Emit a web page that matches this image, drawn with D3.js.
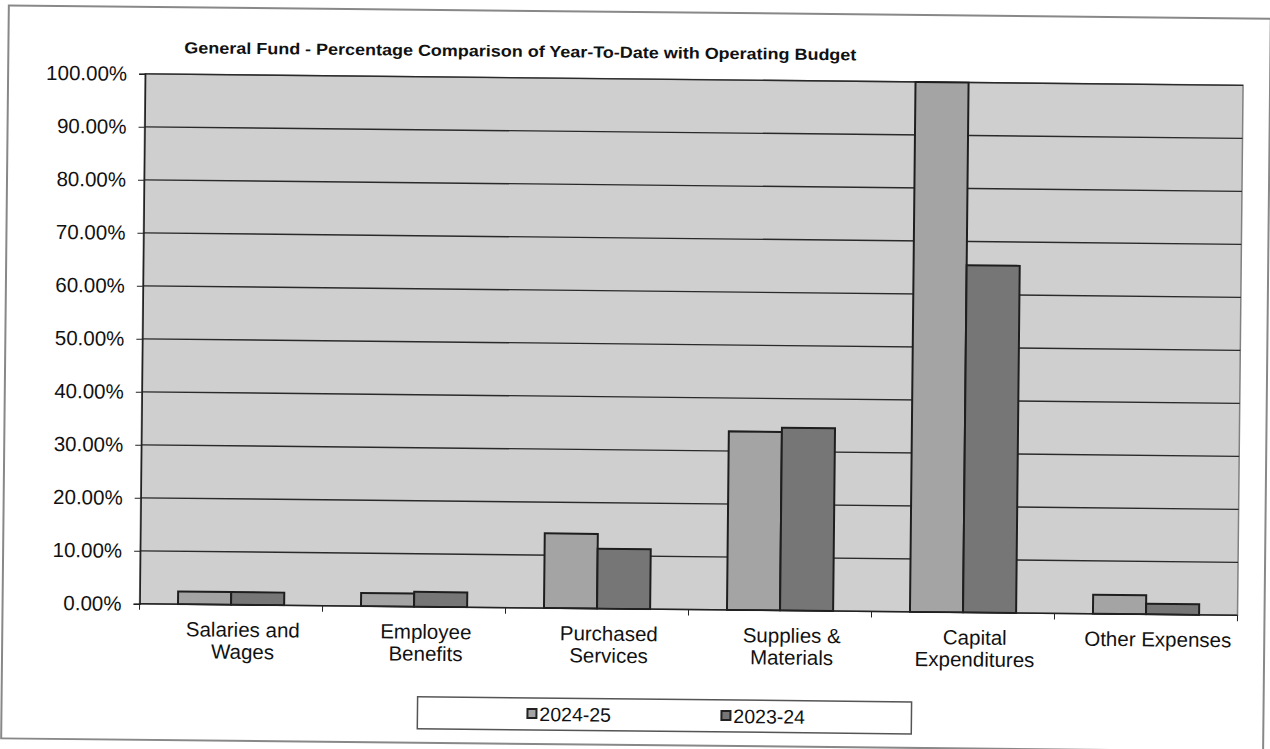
<!DOCTYPE html>
<html>
<head>
<meta charset="utf-8">
<script src="https://cdn.jsdelivr.net/npm/d3@7"></script>
<style>
  body { margin: 0; background: #fff; }
  text { font-family: 'Liberation Sans', Arial, sans-serif; fill: #111; }
</style>
</head>
<body>
<div id="chart"></div>
<script>
const categories = [
  ['Salaries and', 'Wages'],
  ['Employee', 'Benefits'],
  ['Purchased', 'Services'],
  ['Supplies &', 'Materials'],
  ['Capital', 'Expenditures'],
  ['Other Expenses']
];
const seriesNames = ['2024-25', '2023-24'];
const values2425 = [0.024, 0.025, 0.141, 0.337, 1.0, 0.036];
const values2324 = [0.024, 0.028, 0.113, 0.345, 0.655, 0.020];
const yTicks = [0, 0.1, 0.2, 0.3, 0.4, 0.5, 0.6, 0.7, 0.8, 0.9, 1.0];
const title = 'General Fund - Percentage Comparison of Year-To-Date with Operating Budget';

const W = 1270, H = 749;
const PLOT = { left: 142, right: 1240, top: 79, bottom: 609 };
const COLORS = ['#a4a4a4', '#767676'];

const svg = d3.select('#chart').append('svg')
  .attr('width', W).attr('height', H);

// the scanned page is slightly tilted
const root = svg.append('g').attr('transform', 'rotate(0.6, 635, 375)');

// outer chart frame
root.append('rect')
  .attr('x', 5).attr('y', 12).attr('width', 1262).attr('height', 733)
  .attr('fill', '#fff').attr('stroke', '#888').attr('stroke-width', 2);

root.append('text')
  .attr('x', 517).attr('y', 58)
  .attr('text-anchor', 'middle')
  .attr('font-size', 16).attr('font-weight', 'bold')
  .attr('textLength', 672).attr('lengthAdjust', 'spacingAndGlyphs')
  .text(title);

const x = d3.scaleBand()
  .domain(d3.range(categories.length))
  .range([PLOT.left, PLOT.right])
  .paddingInner(0.42).paddingOuter(0.21);
const xs = d3.scaleBand().domain(seriesNames).range([0, x.bandwidth()]);
const y = d3.scaleLinear().domain([0, 1]).range([PLOT.bottom, PLOT.top]);

// plot area
root.append('rect')
  .attr('x', PLOT.left).attr('y', PLOT.top)
  .attr('width', PLOT.right - PLOT.left).attr('height', PLOT.bottom - PLOT.top)
  .attr('fill', '#cfcfcf').attr('stroke', '#808080').attr('stroke-width', 1.5);

// gridlines
root.append('g')
  .selectAll('line')
  .data(yTicks.slice(1))
  .join('line')
  .attr('x1', PLOT.left).attr('x2', PLOT.right)
  .attr('y1', d => y(d)).attr('y2', d => y(d))
  .attr('stroke', '#2a2a2a').attr('stroke-width', 1.4);

root.append('clipPath').attr('id', 'plotclip')
  .append('rect')
  .attr('x', PLOT.left).attr('y', PLOT.top - 1)
  .attr('width', PLOT.right - PLOT.left).attr('height', PLOT.bottom - PLOT.top + 2);

// bars
const series = [values2425, values2324];
const gBars = root.append('g').attr('clip-path', 'url(#plotclip)');
seriesNames.forEach((name, s) => {
  gBars.append('g')
    .selectAll('rect')
    .data(series[s])
    .join('rect')
    .attr('x', (d, i) => x(i) + xs(name))
    .attr('width', xs.bandwidth())
    .attr('y', d => y(Math.min(d, 1.05)))
    .attr('height', d => y(0) - y(Math.min(d, 1.05)))
    .attr('fill', COLORS[s])
    .attr('stroke', '#1e1e1e').attr('stroke-width', 2);
});

// y axis
const yAxis = root.append('g')
  .attr('transform', 'translate(' + PLOT.left + ',0)')
  .call(d3.axisLeft(y).tickValues(yTicks).tickSize(6).tickPadding(12)
    .tickFormat(d => (d * 100).toFixed(2) + '%'));
yAxis.select('.domain').attr('stroke', '#222').attr('stroke-width', 1.5);
yAxis.selectAll('.tick line').attr('stroke', '#222');
yAxis.selectAll('.tick text')
  .attr('font-size', 20.5).attr('fill', '#111')
  .attr('font-family', "'Liberation Sans', Arial, sans-serif");

// x axis baseline and ticks at category boundaries
const step = x.step();
const boundaries = d3.range(categories.length + 1).map(i => PLOT.left + i * step);
root.append('line')
  .attr('x1', PLOT.left).attr('x2', PLOT.right)
  .attr('y1', y(0)).attr('y2', y(0))
  .attr('stroke', '#222').attr('stroke-width', 1.5);
root.append('g')
  .selectAll('line')
  .data(boundaries)
  .join('line')
  .attr('x1', d => d).attr('x2', d => d)
  .attr('y1', y(0)).attr('y2', y(0) + 6)
  .attr('stroke', '#222');

// category labels
root.append('g')
  .selectAll('text')
  .data(categories)
  .join('text')
  .attr('text-anchor', 'middle')
  .attr('font-size', 20.5)
  .attr('y', y(0) + 32)
  .each(function (lines, i) {
    const cx = x(i) + x.bandwidth() / 2 + 12;
    d3.select(this).selectAll('tspan')
      .data(lines)
      .join('tspan')
      .attr('x', cx)
      .attr('dy', (d, k) => (k === 0 ? 0 : 22))
      .text(d => d);
  });

// legend
const gLegend = root.append('g').attr('transform', 'translate(421,699)');
gLegend.append('rect')
  .attr('width', 494).attr('height', 32)
  .attr('fill', '#fff').attr('stroke', '#555').attr('stroke-width', 1.5);
const legendX = [110, 304];
seriesNames.forEach((name, s) => {
  gLegend.append('rect')
    .attr('x', legendX[s]).attr('y', 11)
    .attr('width', 9).attr('height', 9)
    .attr('fill', COLORS[s]).attr('stroke', '#222').attr('stroke-width', 2);
  gLegend.append('text')
    .attr('x', legendX[s] + 12).attr('y', 23)
    .attr('font-size', 19.5)
    .text(name);
});
</script>
</body>
</html>
